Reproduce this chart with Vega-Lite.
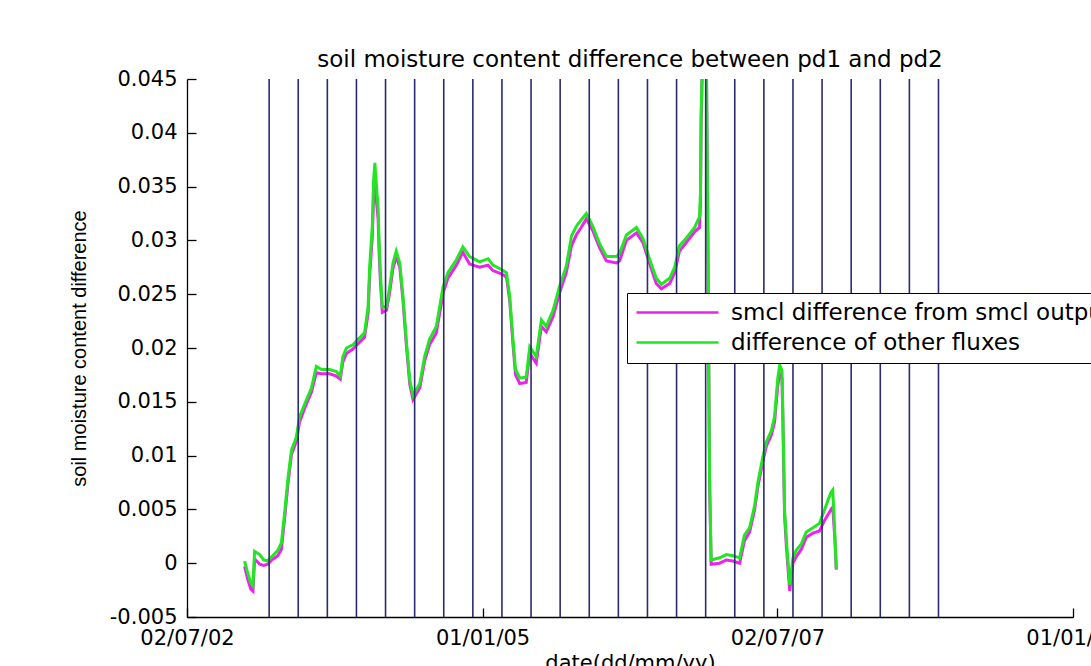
{
  "$schema": "https://vega.github.io/schema/vega-lite/v6.json",
  "width": 886,
  "height": 538,
  "autosize": {"type": "none"},
  "padding": {"left": 187, "top": 79, "right": 18, "bottom": 49},
  "background": "white",
  "title": {"text": "soil moisture content difference between pd1 and pd2", "font": "DejaVu Sans", "fontSize": 23, "fontWeight": "normal", "color": "black", "anchor": "middle", "offset": -4},
  "datasets": {
    "d": [
      {"date": "2002-12-27", "smcl": -0.0003, "other": 0.0002},
      {"date": "2003-01-05", "smcl": -0.0014, "other": -0.0008},
      {"date": "2003-01-15", "smcl": -0.0024, "other": -0.0018},
      {"date": "2003-01-22", "smcl": -0.0026, "other": -0.0021},
      {"date": "2003-01-27", "smcl": 0.0004, "other": 0.0011},
      {"date": "2003-02-12", "smcl": -0.0001, "other": 0.0008},
      {"date": "2003-02-24", "smcl": -0.0002, "other": 0.0003},
      {"date": "2003-03-09", "smcl": -0.0001, "other": 0.0002},
      {"date": "2003-03-21", "smcl": 0.0003, "other": 0.0006},
      {"date": "2003-04-09", "smcl": 0.0007, "other": 0.0012},
      {"date": "2003-04-20", "smcl": 0.0013, "other": 0.0019},
      {"date": "2003-04-30", "smcl": 0.0042, "other": 0.0047},
      {"date": "2003-05-10", "smcl": 0.0073, "other": 0.0078},
      {"date": "2003-05-21", "smcl": 0.0101, "other": 0.0105},
      {"date": "2003-06-05", "smcl": 0.0113, "other": 0.0117},
      {"date": "2003-06-15", "smcl": 0.0131, "other": 0.0136},
      {"date": "2003-07-01", "smcl": 0.0144, "other": 0.0148},
      {"date": "2003-07-22", "smcl": 0.0159, "other": 0.0163},
      {"date": "2003-08-06", "smcl": 0.0177, "other": 0.0183},
      {"date": "2003-08-22", "smcl": 0.0176, "other": 0.0180},
      {"date": "2003-09-16", "smcl": 0.0176, "other": 0.0180},
      {"date": "2003-10-07", "smcl": 0.0174, "other": 0.0178},
      {"date": "2003-10-19", "smcl": 0.0171, "other": 0.0174},
      {"date": "2003-10-27", "smcl": 0.0187, "other": 0.0192},
      {"date": "2003-11-07", "smcl": 0.0195, "other": 0.0200},
      {"date": "2003-11-27", "smcl": 0.0199, "other": 0.0203},
      {"date": "2003-12-13", "smcl": 0.0204, "other": 0.0208},
      {"date": "2004-01-02", "smcl": 0.0210, "other": 0.0214},
      {"date": "2004-01-13", "smcl": 0.0232, "other": 0.0238},
      {"date": "2004-01-18", "smcl": 0.0268, "other": 0.0276},
      {"date": "2004-01-26", "smcl": 0.0303, "other": 0.0313},
      {"date": "2004-01-30", "smcl": 0.0340, "other": 0.0356},
      {"date": "2004-02-03", "smcl": 0.0352, "other": 0.0372},
      {"date": "2004-02-08", "smcl": 0.0336, "other": 0.0350},
      {"date": "2004-02-13", "smcl": 0.0320, "other": 0.0331},
      {"date": "2004-02-16", "smcl": 0.0290, "other": 0.0300},
      {"date": "2004-02-20", "smcl": 0.0262, "other": 0.0270},
      {"date": "2004-02-26", "smcl": 0.0233, "other": 0.0238},
      {"date": "2004-03-10", "smcl": 0.0235, "other": 0.0238},
      {"date": "2004-03-20", "smcl": 0.0252, "other": 0.0257},
      {"date": "2004-03-30", "smcl": 0.0274, "other": 0.0279},
      {"date": "2004-04-09", "smcl": 0.0285, "other": 0.0290},
      {"date": "2004-04-20", "smcl": 0.0275, "other": 0.0279},
      {"date": "2004-04-30", "smcl": 0.0244, "other": 0.0248},
      {"date": "2004-05-10", "smcl": 0.0204, "other": 0.0208},
      {"date": "2004-05-21", "smcl": 0.0166, "other": 0.0170},
      {"date": "2004-05-31", "smcl": 0.0152, "other": 0.0156},
      {"date": "2004-06-21", "smcl": 0.0163, "other": 0.0167},
      {"date": "2004-07-06", "smcl": 0.0188, "other": 0.0192},
      {"date": "2004-07-21", "smcl": 0.0203, "other": 0.0208},
      {"date": "2004-08-11", "smcl": 0.0214, "other": 0.0220},
      {"date": "2004-09-01", "smcl": 0.0251, "other": 0.0257},
      {"date": "2004-09-16", "smcl": 0.0265, "other": 0.0270},
      {"date": "2004-10-12", "smcl": 0.0277, "other": 0.0282},
      {"date": "2004-11-01", "smcl": 0.0289, "other": 0.0294},
      {"date": "2004-11-22", "smcl": 0.0278, "other": 0.0285},
      {"date": "2004-12-23", "smcl": 0.0275, "other": 0.0280},
      {"date": "2005-01-18", "smcl": 0.0277, "other": 0.0283},
      {"date": "2005-02-02", "smcl": 0.0272, "other": 0.0277},
      {"date": "2005-02-28", "smcl": 0.0269, "other": 0.0273},
      {"date": "2005-03-16", "smcl": 0.0266, "other": 0.0270},
      {"date": "2005-03-26", "smcl": 0.0244, "other": 0.0248},
      {"date": "2005-04-05", "smcl": 0.0204, "other": 0.0208},
      {"date": "2005-04-13", "smcl": 0.0175, "other": 0.0180},
      {"date": "2005-04-26", "smcl": 0.0167, "other": 0.0172},
      {"date": "2005-05-16", "smcl": 0.0168, "other": 0.0173},
      {"date": "2005-05-27", "smcl": 0.0195, "other": 0.0201},
      {"date": "2005-06-16", "smcl": 0.0186, "other": 0.0192},
      {"date": "2005-07-02", "smcl": 0.0220, "other": 0.0226},
      {"date": "2005-07-17", "smcl": 0.0215, "other": 0.0220},
      {"date": "2005-08-07", "smcl": 0.0229, "other": 0.0235},
      {"date": "2005-08-27", "smcl": 0.0251, "other": 0.0257},
      {"date": "2005-09-17", "smcl": 0.0270, "other": 0.0276},
      {"date": "2005-10-03", "smcl": 0.0295, "other": 0.0304},
      {"date": "2005-10-18", "smcl": 0.0305, "other": 0.0313},
      {"date": "2005-11-02", "smcl": 0.0312, "other": 0.0319},
      {"date": "2005-11-18", "smcl": 0.0320, "other": 0.0325},
      {"date": "2005-12-08", "smcl": 0.0309, "other": 0.0313},
      {"date": "2005-12-29", "smcl": 0.0293, "other": 0.0297},
      {"date": "2006-01-19", "smcl": 0.0281, "other": 0.0285},
      {"date": "2006-02-19", "smcl": 0.0279, "other": 0.0285},
      {"date": "2006-03-01", "smcl": 0.0281, "other": 0.0288},
      {"date": "2006-03-22", "smcl": 0.0300, "other": 0.0305},
      {"date": "2006-04-22", "smcl": 0.0307, "other": 0.0312},
      {"date": "2006-05-12", "smcl": 0.0298, "other": 0.0302},
      {"date": "2006-06-02", "smcl": 0.0278, "other": 0.0282},
      {"date": "2006-06-22", "smcl": 0.0260, "other": 0.0265},
      {"date": "2006-07-08", "smcl": 0.0255, "other": 0.0259},
      {"date": "2006-08-03", "smcl": 0.0260, "other": 0.0265},
      {"date": "2006-08-18", "smcl": 0.0270, "other": 0.0275},
      {"date": "2006-09-02", "smcl": 0.0290, "other": 0.0295},
      {"date": "2006-09-23", "smcl": 0.0298, "other": 0.0302},
      {"date": "2006-10-19", "smcl": 0.0308, "other": 0.0312},
      {"date": "2006-11-03", "smcl": 0.0312, "other": 0.0322},
      {"date": "2006-11-06", "smcl": 0.0335, "other": 0.0345},
      {"date": "2006-11-08", "smcl": 0.0410, "other": 0.0418},
      {"date": "2006-11-13", "smcl": 0.0480, "other": 0.0480},
      {"date": "2006-11-24", "smcl": 0.0480, "other": 0.0480},
      {"date": "2006-11-26", "smcl": 0.0398, "other": 0.0402},
      {"date": "2006-11-29", "smcl": 0.0298, "other": 0.0302},
      {"date": "2006-12-04", "smcl": 0.0075, "other": 0.0079},
      {"date": "2006-12-09", "smcl": -0.0001, "other": 0.0003},
      {"date": "2007-01-04", "smcl": 0.0000, "other": 0.0005},
      {"date": "2007-01-25", "smcl": 0.0003, "other": 0.0008},
      {"date": "2007-02-14", "smcl": 0.0002, "other": 0.0007},
      {"date": "2007-03-07", "smcl": 0.0000, "other": 0.0005},
      {"date": "2007-03-22", "smcl": 0.0021, "other": 0.0026},
      {"date": "2007-04-07", "smcl": 0.0029, "other": 0.0033},
      {"date": "2007-04-22", "smcl": 0.0049, "other": 0.0053},
      {"date": "2007-05-03", "smcl": 0.0072, "other": 0.0076},
      {"date": "2007-05-18", "smcl": 0.0095, "other": 0.0099},
      {"date": "2007-05-29", "smcl": 0.0109, "other": 0.0113},
      {"date": "2007-06-13", "smcl": 0.0119, "other": 0.0123},
      {"date": "2007-06-23", "smcl": 0.0131, "other": 0.0136},
      {"date": "2007-07-03", "smcl": 0.0165, "other": 0.0172},
      {"date": "2007-07-09", "smcl": 0.0176, "other": 0.0184},
      {"date": "2007-07-16", "smcl": 0.0172, "other": 0.0179},
      {"date": "2007-07-19", "smcl": 0.0130, "other": 0.0136},
      {"date": "2007-07-24", "smcl": 0.0044, "other": 0.0050},
      {"date": "2007-07-30", "smcl": 0.0014, "other": 0.0020},
      {"date": "2007-08-09", "smcl": -0.0026, "other": -0.0020},
      {"date": "2007-08-19", "smcl": 0.0000, "other": 0.0005},
      {"date": "2007-08-29", "smcl": 0.0006, "other": 0.0012},
      {"date": "2007-09-14", "smcl": 0.0013, "other": 0.0018},
      {"date": "2007-09-29", "smcl": 0.0024, "other": 0.0029},
      {"date": "2007-10-20", "smcl": 0.0028, "other": 0.0033},
      {"date": "2007-11-09", "smcl": 0.0030, "other": 0.0037},
      {"date": "2007-11-25", "smcl": 0.0040, "other": 0.0050},
      {"date": "2007-12-07", "smcl": 0.0046, "other": 0.0060},
      {"date": "2007-12-15", "smcl": 0.0050, "other": 0.0066},
      {"date": "2007-12-20", "smcl": 0.0052, "other": 0.0068},
      {"date": "2007-12-26", "smcl": 0.0025, "other": 0.0031},
      {"date": "2007-12-31", "smcl": -0.0006, "other": -0.0005}
    ],
    "q": [
      {"date": "2003-03-13"}, {"date": "2003-06-11"}, {"date": "2003-09-09"}, {"date": "2003-12-08"},
      {"date": "2004-03-07"}, {"date": "2004-06-05"}, {"date": "2004-09-03"}, {"date": "2004-12-02"},
      {"date": "2005-03-02"}, {"date": "2005-05-31"}, {"date": "2005-08-29"}, {"date": "2005-11-27"},
      {"date": "2006-02-25"}, {"date": "2006-05-26"}, {"date": "2006-08-24"}, {"date": "2006-11-22"},
      {"date": "2007-02-20"}, {"date": "2007-05-21"}, {"date": "2007-08-19"}, {"date": "2007-11-17"},
      {"date": "2008-02-15"}, {"date": "2008-05-15"}, {"date": "2008-08-13"}, {"date": "2008-11-11"}
    ]
  },
  "encoding": {
    "x": {
      "field": "date", "type": "temporal",
      "scale": {"type": "utc", "domain": [{"year": 2002, "month": 7, "date": 2, "utc": true}, {"year": 2010, "month": 1, "date": 1, "utc": true}], "nice": false},
      "axis": {
        "values": [{"year": 2002, "month": 7, "date": 2, "utc": true}, {"year": 2005, "month": 1, "date": 1, "utc": true}, {"year": 2007, "month": 7, "date": 2, "utc": true}, {"year": 2010, "month": 1, "date": 1, "utc": true}],
        "labelExpr": "utcFormat(datum.value, '%d/%m/%y')",
        "title": "date(dd/mm/yy)",
        "titleFont": "DejaVu Sans", "titleFontSize": 21, "titleFontWeight": "normal", "titlePadding": 4,
        "labelFlush": false, "labelOverlap": false
      }
    }
  },
  "layer": [
    {
      "data": {"name": "d"},
      "mark": {"type": "line", "strokeWidth": 3, "clip": true},
      "encoding": {
        "y": {
          "field": "smcl", "type": "quantitative",
          "scale": {"domain": [-0.005, 0.045], "nice": false, "zero": false},
          "axis": {"values": [-0.005, 0, 0.005, 0.01, 0.015, 0.02, 0.025, 0.03, 0.035, 0.04, 0.045], "labelExpr": "(datum.value < 0 ? '-' : '') + format(abs(datum.value), '~g')", "title": "soil moisture content difference", "titleFont": "Liberation Sans", "titleFontSize": 20, "titleFontWeight": "normal", "titlePadding": 20}
        },
        "color": {
          "datum": "smcl difference from smcl output",
          "scale": {"domain": ["smcl difference from smcl output", "difference of other fluxes"], "range": ["#ee22ee", "#22e622"]},
          "legend": {"title": null}
        }
      }
    },
    {
      "data": {"name": "d"},
      "mark": {"type": "line", "strokeWidth": 3, "clip": true},
      "encoding": {
        "y": {
          "field": "other", "type": "quantitative",
          "axis": {"values": [-0.005, 0, 0.005, 0.01, 0.015, 0.02, 0.025, 0.03, 0.035, 0.04, 0.045], "labelExpr": "(datum.value < 0 ? '-' : '') + format(abs(datum.value), '~g')", "title": "soil moisture content difference", "titleFont": "Liberation Sans", "titleFontSize": 20, "titleFontWeight": "normal", "titlePadding": 20}
        },
        "color": {"datum": "difference of other fluxes"}
      }
    },
    {
      "data": {"name": "q"},
      "mark": {"type": "rule", "color": "#2b2b70", "strokeWidth": 1.6},
      "encoding": {}
    }
  ],
  "config": {
    "view": {"stroke": null},
    "axis": {
      "grid": false, "domainColor": "black", "tickColor": "black", "labelColor": "black", "titleColor": "black",
      "domainWidth": 1.3, "tickWidth": 1.3, "tickSize": -9, "labelPadding": 19,
      "labelFont": "DejaVu Sans", "labelFontSize": 21
    },
    "legend": {
      "orient": "none", "legendX": 440, "legendY": 214,
      "symbolType": "M-4.1,0H4.1", "symbolSize": 400, "symbolStrokeWidth": 2.5, "symbolOffset": 31,
      "labelOffset": 42, "labelFont": "DejaVu Sans", "labelFontSize": 23, "labelColor": "black", "labelLimit": 2000,
      "fillColor": "white", "strokeColor": "black", "padding": 8, "rowPadding": 6
    }
  }
}
